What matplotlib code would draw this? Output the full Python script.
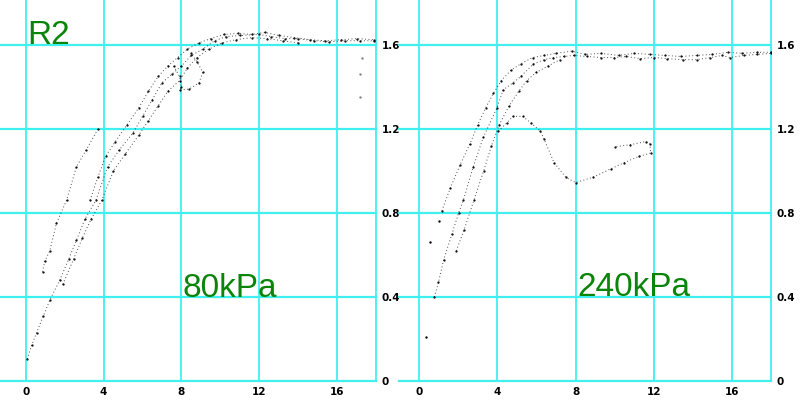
import matplotlib.pyplot as plt

# Left panel (80kPa) traces
l_main_x = [0.07, 0.3, 0.55, 0.9, 1.23, 1.74, 2.2, 2.6, 3.03, 3.6, 4.2, 4.8, 5.5, 6.0, 6.5, 7.0,
            7.5, 8.0, 8.5, 9.1, 9.7, 10.3, 11.0, 12.0, 12.6, 13.3, 14.0, 14.8, 15.6, 16.4, 17.2, 17.9]
l_main_y = [0.105, 0.17, 0.23, 0.31, 0.386, 0.48, 0.58, 0.67, 0.77, 0.86, 1.02, 1.10, 1.18, 1.26, 1.34, 1.42,
            1.46, 1.50, 1.55, 1.58, 1.62, 1.64, 1.645, 1.65, 1.64, 1.63, 1.63, 1.62, 1.615, 1.62, 1.62, 1.62]
l_upper_x = [3.3, 3.7, 4.1, 4.6, 5.2, 5.8, 6.3, 6.8, 7.3, 7.8, 8.3, 8.9, 9.5, 10.2, 10.9, 11.6, 12.3, 13.0,
             13.8, 14.6, 15.4, 16.2, 17.0, 17.9]
l_upper_y = [0.86, 0.97, 1.07, 1.14, 1.22, 1.30, 1.38, 1.45, 1.50, 1.54, 1.58, 1.61, 1.63, 1.65, 1.655, 1.65,
             1.66, 1.645, 1.635, 1.625, 1.62, 1.625, 1.63, 1.625]
l_lower_x = [1.9, 2.45, 2.9, 3.35, 3.9, 4.5, 5.1, 5.8, 6.3, 6.8, 7.3, 7.9, 8.3, 8.8, 9.4, 10.1, 10.8, 11.6,
             12.4, 13.2, 14.0]
l_lower_y = [0.46, 0.58, 0.68, 0.77, 0.86, 1.00, 1.08, 1.17, 1.24, 1.31, 1.38, 1.43, 1.49, 1.54, 1.58, 1.61,
             1.625, 1.635, 1.63, 1.62, 1.61]
l_kink_x = [7.6, 7.9, 8.0, 7.9, 8.4, 8.9, 9.1, 8.8, 8.5]
l_kink_y = [1.50, 1.45, 1.40, 1.385, 1.39, 1.42, 1.47, 1.52, 1.56]
l_thin_x = [0.86, 0.97, 1.23, 1.57, 2.09, 2.6, 3.1, 3.71]
l_thin_y = [0.52, 0.57, 0.62, 0.75, 0.86, 1.02, 1.10, 1.20]
l_stray_x = [17.3, 17.2, 17.2]
l_stray_y = [1.54, 1.46, 1.35]

# Right panel (240kPa) traces
r_main_x = [0.78, 0.99, 1.25, 1.68, 2.02, 2.26, 2.77, 3.28, 3.98, 4.3, 4.8, 5.2, 5.85, 6.4, 6.87, 7.4, 7.9, 8.6,
            9.3, 9.96, 10.6, 11.3, 12.0, 12.7, 13.5, 14.2, 14.9, 15.5, 15.9, 16.6, 17.3, 18.0]
r_main_y = [0.40, 0.47, 0.576, 0.70, 0.80, 0.86, 1.02, 1.16, 1.30, 1.386, 1.42, 1.45, 1.51, 1.53, 1.54, 1.545, 1.55,
            1.545, 1.54, 1.54, 1.545, 1.535, 1.54, 1.535, 1.53, 1.53, 1.54, 1.55, 1.54, 1.55, 1.555, 1.56]
r_upper_x = [1.16, 1.6, 2.1, 2.6, 3.0, 3.4, 3.8, 4.2, 4.7, 5.2, 5.8, 6.4, 7.0, 7.8, 8.5, 9.3, 10.2,
             11.0, 11.8, 12.6, 13.4, 14.2, 15.0, 15.8, 16.5, 17.3, 18.0]
r_upper_y = [0.81, 0.92, 1.03, 1.13, 1.22, 1.30, 1.37, 1.43, 1.48, 1.51, 1.54, 1.55, 1.56, 1.57, 1.555,
             1.56, 1.55, 1.56, 1.555, 1.55, 1.545, 1.55, 1.555, 1.565, 1.56, 1.565, 1.565]
r_lower_x = [1.9, 2.3, 2.8, 3.3, 3.7, 4.1, 4.6, 5.1, 5.5, 6.0, 6.6, 7.2]
r_lower_y = [0.62, 0.72, 0.86, 1.00, 1.12, 1.22, 1.31, 1.38, 1.43, 1.47, 1.50, 1.53]
r_loop_x = [4.05, 4.5, 4.8, 5.3, 5.7, 6.2, 6.4, 6.9, 7.5, 8.0, 8.9, 9.8, 10.5, 11.25, 11.85, 11.8, 11.6, 10.8, 10.0]
r_loop_y = [1.19, 1.23, 1.26, 1.26, 1.23, 1.19, 1.15, 1.04, 0.97, 0.945, 0.97, 1.01, 1.04, 1.07, 1.085, 1.13, 1.14,
            1.125, 1.115]
r_stray_x = [0.36, 0.56, 1.03]
r_stray_y = [0.21, 0.66, 0.76]

xticks = [0, 4, 8, 12, 16]
yticks = [0, 0.4, 0.8, 1.2, 1.6]
ytick_labels = ["0", "0.4", "0.8", "1.2", "1.6"]

GRID = "#40f0f0"
GREEN = "#0a850a"


def setup_axes(ax, xmin):
    ax.set_xlim(xmin, 18)
    ax.set_ylim(0, 1.814)
    for s in ax.spines.values():
        s.set_visible(False)
    ax.yaxis.tick_right()
    ax.set_xticks(xticks)
    ax.set_xticklabels([str(t) for t in xticks])
    ax.set_yticks(yticks)
    ax.set_yticklabels(ytick_labels)
    ax.tick_params(length=0, labelsize=7.5, pad=4)
    for lbl in ax.get_xticklabels() + ax.get_yticklabels():
        lbl.set_fontweight("bold")
    for t in xticks + [18]:
        ax.axvline(t, color=GRID, lw=1.3, zorder=0, clip_on=False)
    for t in yticks:
        ax.axhline(t, color=GRID, lw=1.6, zorder=0, clip_on=False)


def draw_trace(ax, xs, ys):
    # dotted line + small dots to mimic the sampled scatter
    ax.plot(xs, ys, ls=(0, (1, 2.5)), lw=0.7, color="black", alpha=0.7)
    ax.plot(xs, ys, ls="none", marker=".", ms=1.2, color="black")


fig = plt.figure(figsize=(8, 4), dpi=100)
ax1 = fig.add_axes([0.0, 0.0475, 0.47, 0.9525])
ax2 = fig.add_axes([0.49875, 0.0475, 0.465, 0.9525])

setup_axes(ax1, -1.33)
setup_axes(ax2, -1.03)

for xs, ys in [(l_main_x, l_main_y), (l_upper_x, l_upper_y), (l_lower_x, l_lower_y),
               (l_kink_x, l_kink_y), (l_thin_x, l_thin_y)]:
    draw_trace(ax1, xs, ys)
ax1.plot(l_stray_x, l_stray_y, ls="none", marker=".", ms=1.4, color="gray")

for xs, ys in [(r_main_x, r_main_y), (r_upper_x, r_upper_y), (r_lower_x, r_lower_y), (r_loop_x, r_loop_y)]:
    draw_trace(ax2, xs, ys)
ax2.plot(r_stray_x, r_stray_y, ls="none", marker=".", ms=1.4, color="black")

txt = dict(color=GREEN, fontsize=24, family="Liberation Sans", va="baseline", ha="left")
ax1.text(27 / 800, 1 - 44 / 400, "R2", transform=fig.transFigure, **txt)
ax1.text(182 / 800, 1 - 297 / 400, "80kPa", transform=fig.transFigure, **txt)
ax2.text(577 / 800, 1 - 296 / 400, "240kPa", transform=fig.transFigure, **txt)

fig.savefig("out.png", dpi=100)
